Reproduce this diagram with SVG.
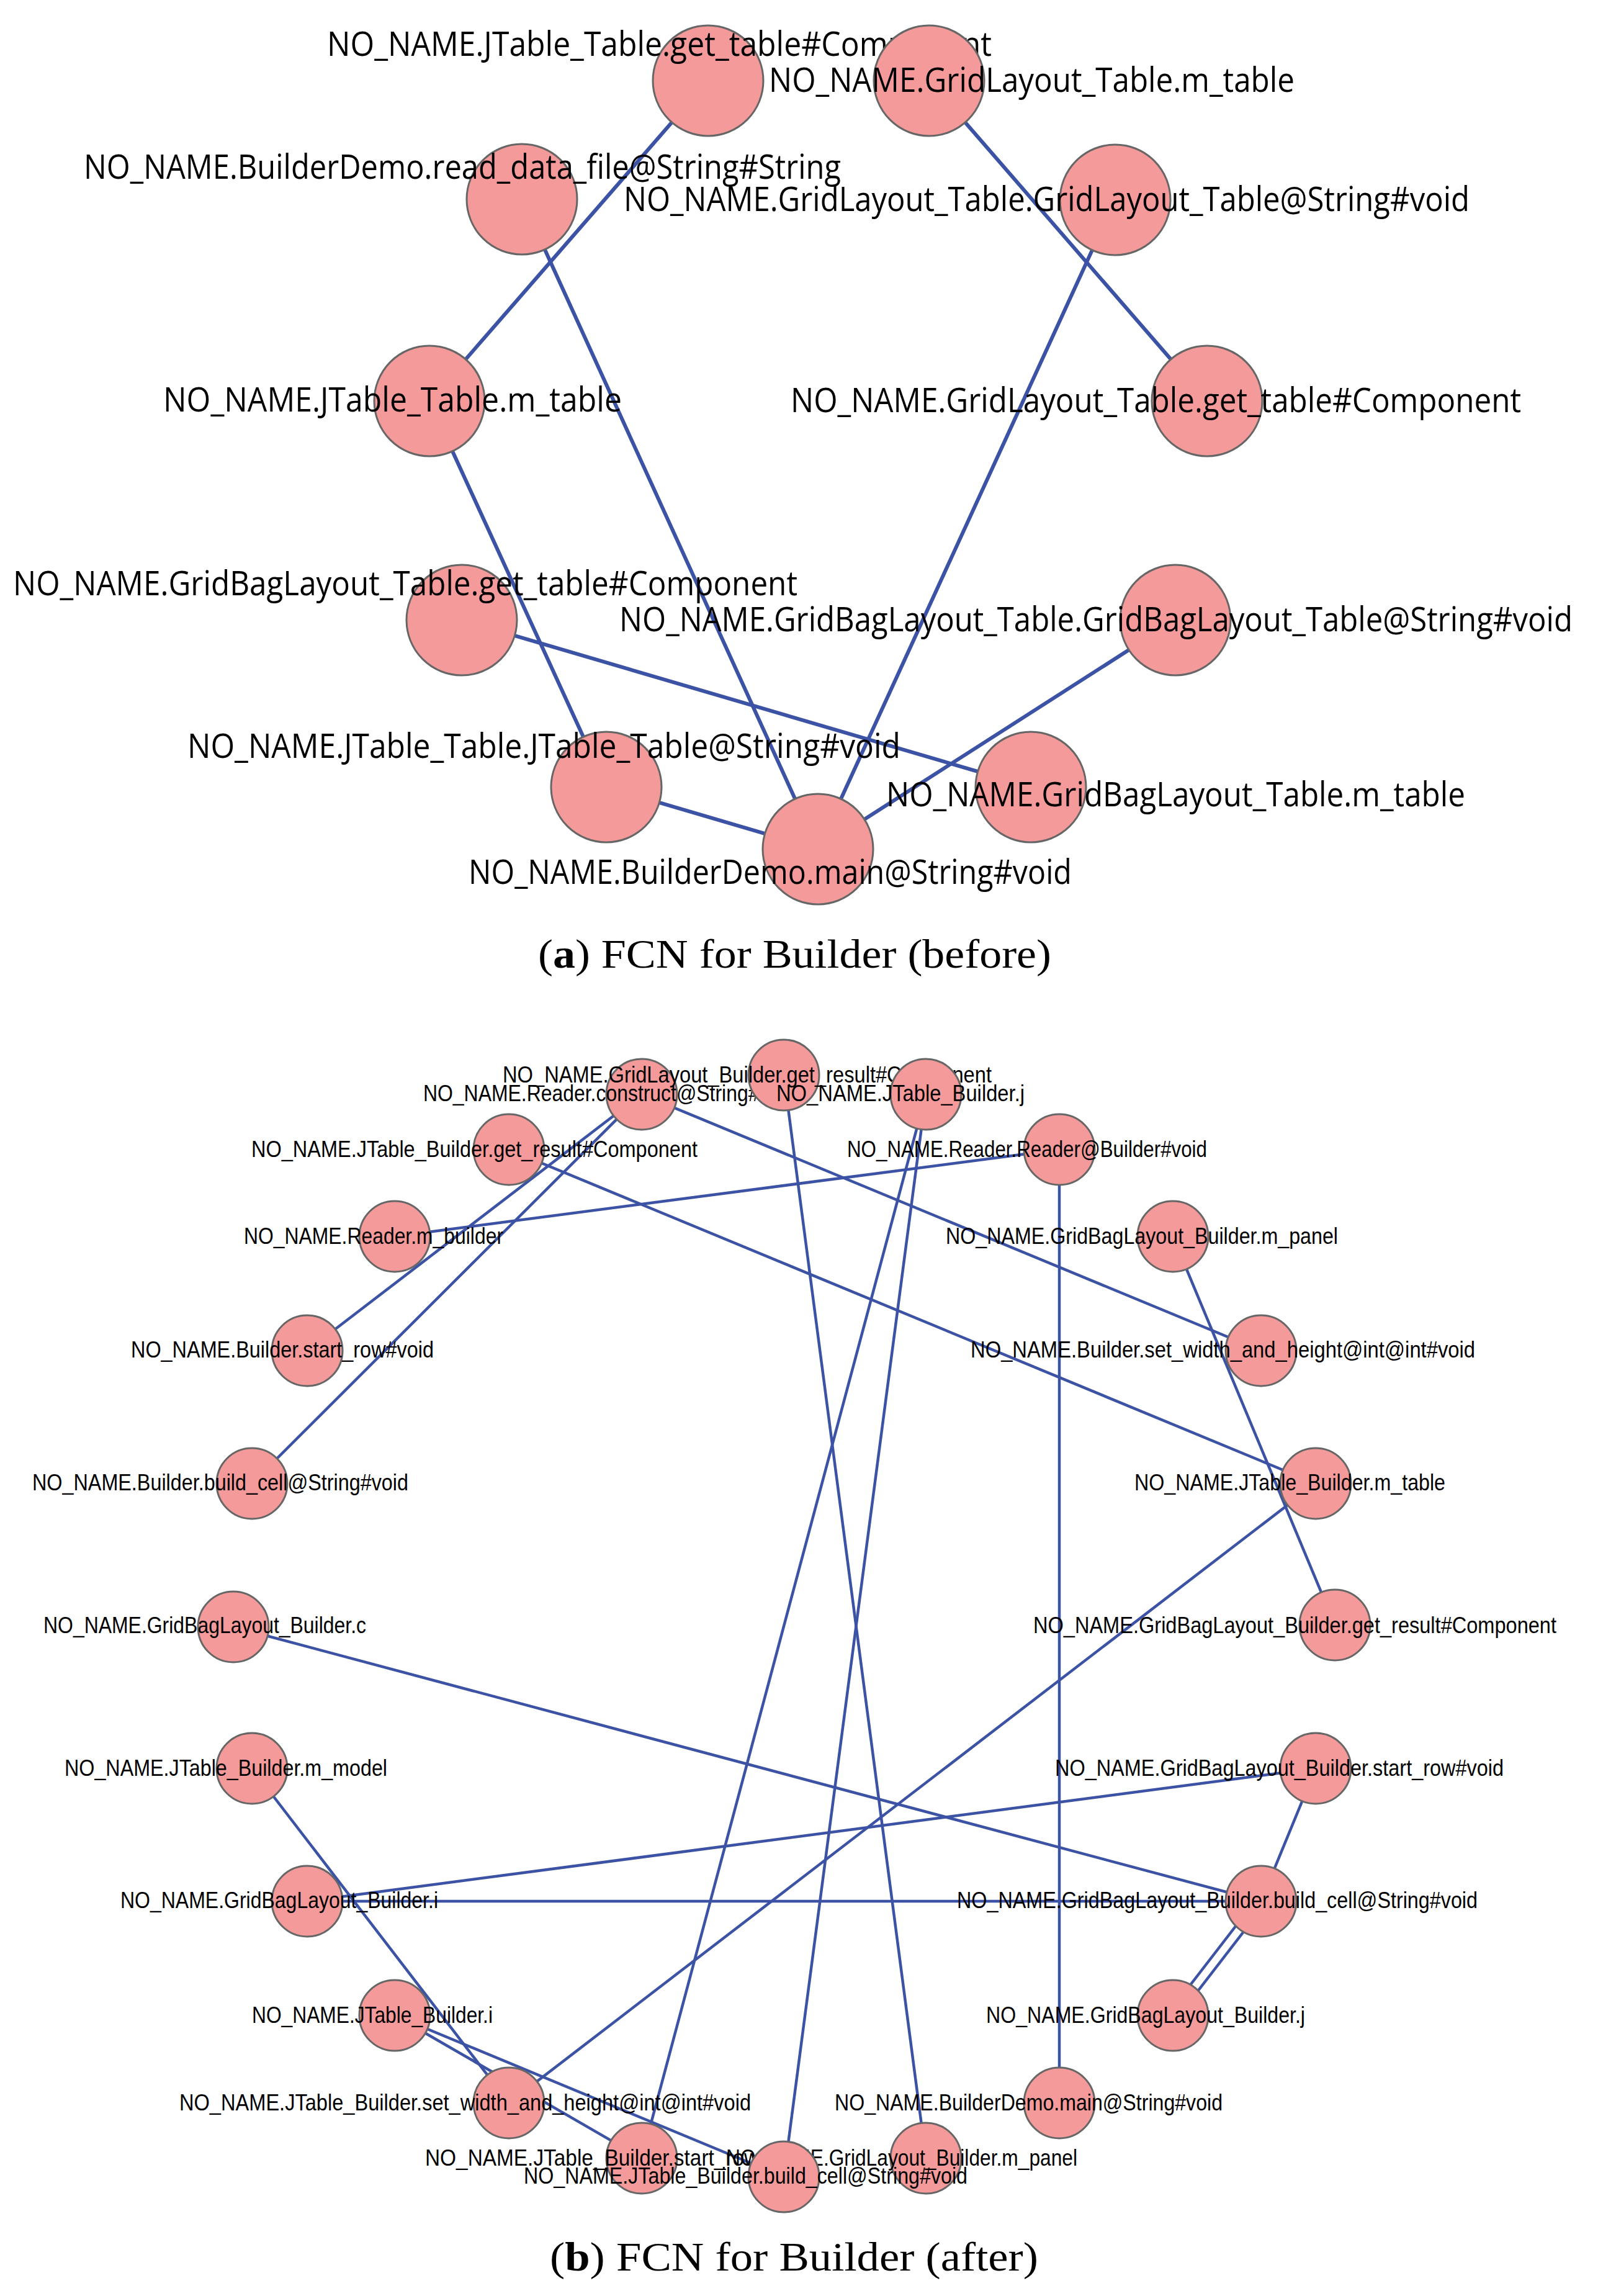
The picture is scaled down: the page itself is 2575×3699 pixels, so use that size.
<svg xmlns="http://www.w3.org/2000/svg" width="2575" height="3699" viewBox="0 0 2575 3699">
<style>
.n{fill:#f59a9a;stroke:#666;stroke-width:3}
.e line{stroke:#3b52a5;stroke-width:6}
.eb line{stroke:#3b52a5;stroke-width:4.5}
.t{font-family:"Open Sans","DejaVu Sans",sans-serif;font-size:54px;fill:#000}
.s{font-family:"Liberation Sans",Arial,sans-serif;font-size:36px;fill:#000}
.c{font-family:"Liberation Serif","Times New Roman",serif;font-size:66px;fill:#000}
</style>
<rect width="2575" height="3699" fill="#fff"/>
<g id="connectors-a" class="e">
<line x1="1141" y1="130" x2="692" y2="646"/>
<line x1="841" y1="321" x2="1318" y2="1368"/>
<line x1="692" y1="646" x2="977" y2="1268"/>
<line x1="744" y1="999" x2="1661" y2="1268"/>
<line x1="977" y1="1268" x2="1318" y2="1368"/>
<line x1="1497" y1="130" x2="1945" y2="646"/>
<line x1="1797" y1="322" x2="1318" y2="1368"/>
<line x1="1894" y1="999" x2="1318" y2="1368"/>
</g>
<g id="a-get_table_jt"><circle class="n" cx="1141" cy="130" r="89"/><text class="t" x="527" y="90" textLength="1071" lengthAdjust="spacingAndGlyphs">NO_NAME.JTable_Table.get_table#Component</text></g>
<g id="a-read_data"><circle class="n" cx="841" cy="321" r="89"/><text class="t" x="135" y="288" textLength="1220" lengthAdjust="spacingAndGlyphs">NO_NAME.BuilderDemo.read_data_file@String#String</text></g>
<g id="a-gl_m_table"><circle class="n" cx="1497" cy="130" r="89"/><text class="t" x="1239" y="148" textLength="847" lengthAdjust="spacingAndGlyphs">NO_NAME.GridLayout_Table.m_table</text></g>
<g id="a-gl_ctor"><circle class="n" cx="1797" cy="322" r="89"/><text class="t" x="1005" y="340" textLength="1363" lengthAdjust="spacingAndGlyphs">NO_NAME.GridLayout_Table.GridLayout_Table@String#void</text></g>
<g id="a-jt_m_table"><circle class="n" cx="692" cy="646" r="89"/><text class="t" x="263" y="663" textLength="739" lengthAdjust="spacingAndGlyphs">NO_NAME.JTable_Table.m_table</text></g>
<g id="a-gl_get_table"><circle class="n" cx="1945" cy="646" r="89"/><text class="t" x="1274" y="664" textLength="1177" lengthAdjust="spacingAndGlyphs">NO_NAME.GridLayout_Table.get_table#Component</text></g>
<g id="a-gb_get_table"><circle class="n" cx="744" cy="999" r="89"/><text class="t" x="21" y="959" textLength="1264" lengthAdjust="spacingAndGlyphs">NO_NAME.GridBagLayout_Table.get_table#Component</text></g>
<g id="a-gb_ctor"><circle class="n" cx="1894" cy="999" r="89"/><text class="t" x="998" y="1017" textLength="1536" lengthAdjust="spacingAndGlyphs">NO_NAME.GridBagLayout_Table.GridBagLayout_Table@String#void</text></g>
<g id="a-jt_ctor"><circle class="n" cx="977" cy="1268" r="89"/><text class="t" x="302" y="1221" textLength="1149" lengthAdjust="spacingAndGlyphs">NO_NAME.JTable_Table.JTable_Table@String#void</text></g>
<g id="a-gb_m_table"><circle class="n" cx="1661" cy="1268" r="89"/><text class="t" x="1428" y="1299" textLength="933" lengthAdjust="spacingAndGlyphs">NO_NAME.GridBagLayout_Table.m_table</text></g>
<g id="a-main"><circle class="n" cx="1318" cy="1368" r="89"/><text class="t" x="755" y="1424" textLength="972" lengthAdjust="spacingAndGlyphs">NO_NAME.BuilderDemo.main@String#void</text></g>
<text class="c" x="867" y="1559" textLength="827" lengthAdjust="spacingAndGlyphs">(<tspan font-weight="bold">a</tspan>) FCN for Builder (before)</text>

<g id="connectors-b" class="eb">
<line x1="1034" y1="1763" x2="495" y2="2176"/>
<line x1="1034" y1="1763" x2="406" y2="2390"/>
<line x1="1034" y1="1763" x2="2032" y2="2176"/>
<line x1="820" y1="1852" x2="2120" y2="2390"/>
<line x1="636" y1="1992" x2="1707" y2="1852"/>
<line x1="1263" y1="1732" x2="1492" y2="3477"/>
<line x1="1492" y1="1763" x2="1034" y2="3477"/>
<line x1="1492" y1="1763" x2="1263" y2="3507"/>
<line x1="1707" y1="1852" x2="1707" y2="3388"/>
<line x1="1890" y1="1992" x2="2151" y2="2618"/>
<line x1="2120" y1="2390" x2="820" y2="3388"/>
<line x1="376" y1="2621" x2="2032" y2="3063"/>
<line x1="406" y1="2849" x2="820" y2="3388"/>
<line x1="495" y1="3063" x2="2120" y2="2849"/>
<line x1="495" y1="3063" x2="2032" y2="3063"/>
<line x1="2120" y1="2849" x2="2032" y2="3063"/>
<line x1="2038" y1="3068" x2="1896" y2="3252"/>
<line x1="2026" y1="3058" x2="1884" y2="3242"/>
<line x1="636" y1="3247" x2="1034" y2="3477"/>
<line x1="636" y1="3247" x2="1263" y2="3507"/>
</g>
<g id="b-reader_construct"><circle class="n" cx="1034" cy="1763" r="57"/><text class="s" x="682" y="1774" textLength="600" lengthAdjust="spacingAndGlyphs">NO_NAME.Reader.construct@String#void</text></g>
<g id="b-gl_get_result"><circle class="n" cx="1263" cy="1732" r="57"/><text class="s" x="810" y="1744" textLength="788" lengthAdjust="spacingAndGlyphs">NO_NAME.GridLayout_Builder.get_result#Component</text></g>
<g id="b-jt_j"><circle class="n" cx="1492" cy="1763" r="57"/><text class="s" x="1251" y="1774" textLength="400" lengthAdjust="spacingAndGlyphs">NO_NAME.JTable_Builder.j</text></g>
<g id="b-jt_get_result"><circle class="n" cx="820" cy="1852" r="57"/><text class="s" x="405" y="1864" textLength="719" lengthAdjust="spacingAndGlyphs">NO_NAME.JTable_Builder.get_result#Component</text></g>
<g id="b-reader_ctor"><circle class="n" cx="1707" cy="1852" r="57"/><text class="s" x="1365" y="1864" textLength="580" lengthAdjust="spacingAndGlyphs">NO_NAME.Reader.Reader@Builder#void</text></g>
<g id="b-reader_m_builder"><circle class="n" cx="636" cy="1992" r="57"/><text class="s" x="393" y="2004" textLength="418" lengthAdjust="spacingAndGlyphs">NO_NAME.Reader.m_builder</text></g>
<g id="b-gb_m_panel"><circle class="n" cx="1890" cy="1992" r="57"/><text class="s" x="1524" y="2004" textLength="632" lengthAdjust="spacingAndGlyphs">NO_NAME.GridBagLayout_Builder.m_panel</text></g>
<g id="b-start_row"><circle class="n" cx="495" cy="2176" r="57"/><text class="s" x="211" y="2187" textLength="488" lengthAdjust="spacingAndGlyphs">NO_NAME.Builder.start_row#void</text></g>
<g id="b-set_wh"><circle class="n" cx="2032" cy="2176" r="57"/><text class="s" x="1564" y="2187" textLength="813" lengthAdjust="spacingAndGlyphs">NO_NAME.Builder.set_width_and_height@int@int#void</text></g>
<g id="b-build_cell"><circle class="n" cx="406" cy="2390" r="57"/><text class="s" x="52" y="2401" textLength="606" lengthAdjust="spacingAndGlyphs">NO_NAME.Builder.build_cell@String#void</text></g>
<g id="b-jt_m_table"><circle class="n" cx="2120" cy="2390" r="57"/><text class="s" x="1828" y="2401" textLength="501" lengthAdjust="spacingAndGlyphs">NO_NAME.JTable_Builder.m_table</text></g>
<g id="b-gb_c"><circle class="n" cx="376" cy="2621" r="57"/><text class="s" x="70" y="2631" textLength="520" lengthAdjust="spacingAndGlyphs">NO_NAME.GridBagLayout_Builder.c</text></g>
<g id="b-gb_get_result"><circle class="n" cx="2151" cy="2618" r="57"/><text class="s" x="1665" y="2631" textLength="843" lengthAdjust="spacingAndGlyphs">NO_NAME.GridBagLayout_Builder.get_result#Component</text></g>
<g id="b-jt_m_model"><circle class="n" cx="406" cy="2849" r="57"/><text class="s" x="104" y="2861" textLength="520" lengthAdjust="spacingAndGlyphs">NO_NAME.JTable_Builder.m_model</text></g>
<g id="b-gb_start_row"><circle class="n" cx="2120" cy="2849" r="57"/><text class="s" x="1700" y="2861" textLength="723" lengthAdjust="spacingAndGlyphs">NO_NAME.GridBagLayout_Builder.start_row#void</text></g>
<g id="b-gb_i"><circle class="n" cx="495" cy="3063" r="57"/><text class="s" x="194" y="3074" textLength="512" lengthAdjust="spacingAndGlyphs">NO_NAME.GridBagLayout_Builder.i</text></g>
<g id="b-gb_build_cell"><circle class="n" cx="2032" cy="3063" r="57"/><text class="s" x="1542" y="3074" textLength="839" lengthAdjust="spacingAndGlyphs">NO_NAME.GridBagLayout_Builder.build_cell@String#void</text></g>
<g id="b-jt_i"><circle class="n" cx="636" cy="3247" r="57"/><text class="s" x="406" y="3259" textLength="388" lengthAdjust="spacingAndGlyphs">NO_NAME.JTable_Builder.i</text></g>
<g id="b-gb_j"><circle class="n" cx="1890" cy="3247" r="57"/><text class="s" x="1589" y="3259" textLength="514" lengthAdjust="spacingAndGlyphs">NO_NAME.GridBagLayout_Builder.j</text></g>
<g id="b-jt_set_wh"><circle class="n" cx="820" cy="3388" r="57"/><text class="s" x="289" y="3400" textLength="921" lengthAdjust="spacingAndGlyphs">NO_NAME.JTable_Builder.set_width_and_height@int@int#void</text></g>
<g id="b-main"><circle class="n" cx="1707" cy="3388" r="57"/><text class="s" x="1345" y="3400" textLength="625" lengthAdjust="spacingAndGlyphs">NO_NAME.BuilderDemo.main@String#void</text></g>
<g id="b-jt_start_row"><circle class="n" cx="1034" cy="3477" r="57"/><text class="s" x="685" y="3489" textLength="618" lengthAdjust="spacingAndGlyphs">NO_NAME.JTable_Builder.start_row#void</text></g>
<g id="b-gl_m_panel"><circle class="n" cx="1492" cy="3477" r="57"/><text class="s" x="1170" y="3489" textLength="566" lengthAdjust="spacingAndGlyphs">NO_NAME.GridLayout_Builder.m_panel</text></g>
<g id="b-jt_build_cell"><circle class="n" cx="1263" cy="3507" r="57"/><text class="s" x="844" y="3518" textLength="715" lengthAdjust="spacingAndGlyphs">NO_NAME.JTable_Builder.build_cell@String#void</text></g>
<text class="c" x="886" y="3658" textLength="787" lengthAdjust="spacingAndGlyphs">(<tspan font-weight="bold">b</tspan>) FCN for Builder (after)</text>
</svg>
